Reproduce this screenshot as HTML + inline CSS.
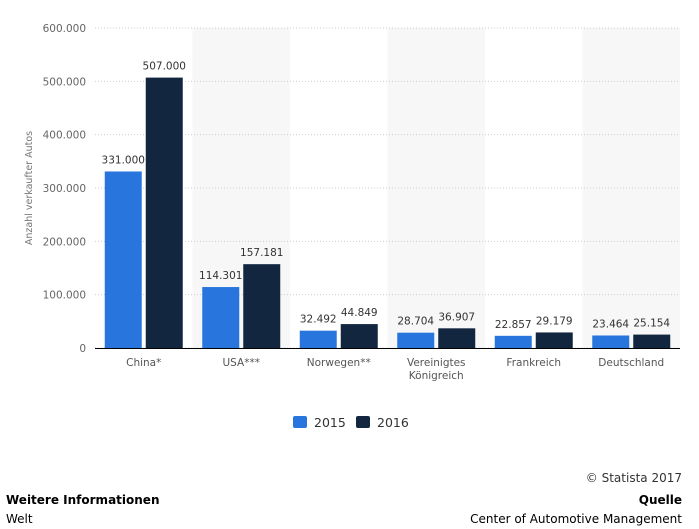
<!DOCTYPE html>
<html><head><meta charset="utf-8"><style>
body{margin:0;width:699px;height:529px;background:#fff;font-family:"DejaVu Sans",sans-serif;overflow:hidden;position:relative}
svg text{font-family:"DejaVu Sans",sans-serif}
.f{position:absolute;font-size:12px;color:#000}
</style></head><body>
<svg id="c" width="699" height="440" style="position:absolute;left:0;top:0"></svg>
<div class="f" style="right:17px;top:471px;color:#333">© Statista 2017</div>
<div class="f" style="left:6px;top:493px;font-weight:bold">Weitere Informationen</div>
<div class="f" style="left:6px;top:512px">Welt</div>
<div class="f" style="right:17px;top:493px;font-weight:bold">Quelle</div>
<div class="f" style="right:17px;top:512px">Center of Automotive Management</div>
<script>
const categories=[["China*"],["USA***"],["Norwegen**"],["Vereinigtes","Königreich"],["Frankreich"],["Deutschland"]];
const values2015=[331000,114301,32492,28704,22857,23464];
const values2016=[507000,157181,44849,36907,29179,25154];
const ticks=[0,100000,200000,300000,400000,500000,600000];
const svg=document.getElementById('c');const NS='http://www.w3.org/2000/svg';
const x0=95,x1=680,yb=348,yt=28,max=600000;
const y=v=>yb-(v/max)*(yb-yt);
const bw=(x1-x0)/categories.length;
const cx=i=>x0+bw*i+bw/2;
const fmt=v=>v===0?'0':v.toLocaleString('de-DE');
function el(t,a,txt){const e=document.createElementNS(NS,t);for(const k in a)e.setAttribute(k,a[k]);if(txt!=null)e.textContent=txt;svg.appendChild(e);return e;}
categories.forEach((c,i)=>{if(i%2==1){const r=el('rect',{x:x0+bw*i,y:yt,width:bw,height:yb-yt,fill:'#f7f7f7'});

}});
ticks.forEach(t=>{const l=el('line',{x1:x0,x2:x1,y1:y(t),y2:y(t),stroke:'#ccc','stroke-dasharray':'1,2'});


const tx=el('text',{x:86,y:y(t)+4,'text-anchor':'end','font-size':10.5,fill:'#666'},fmt(t));

});
const yt2=el('text',{x:0,y:0,transform:'translate(32,188) rotate(-90)','text-anchor':'middle','font-size':9.5,fill:'#777'},'Anzahl verkaufter Autos');


const series=[[values2015,'#2876dd',-39],[values2016,'#13263f',2]];
categories.forEach((c,i)=>{
series.forEach(([vals,col,off],s)=>{const v=vals[i];
const b=el('rect',{x:cx(i)+off,y:y(v),width:37,height:yb-y(v),fill:col});


const t=el('text',{x:cx(i)+off+18.5,y:y(v)-8,'text-anchor':'middle','font-size':10.5,fill:'#333'},fmt(v));

});
c.forEach((ln,k)=>{const t=el('text',{x:cx(i),y:366+k*13,'text-anchor':'middle','font-size':10.5,fill:'#555'},ln);

});
});
const ax=el('line',{x1:x0,x2:x1,y1:yb+0.5,y2:yb+0.5,stroke:'#000'});


[['2015','#2876dd',293],['2016','#13263f',356]].forEach(([n,c,lx])=>{
const g=el('g',{});

const r=document.createElementNS(NS,'rect');r.setAttribute('x',lx);r.setAttribute('y',416);r.setAttribute('width',14);r.setAttribute('height',12);r.setAttribute('rx',2);r.setAttribute('fill',c);g.appendChild(r);
const t=document.createElementNS(NS,'text');t.setAttribute('x',lx+21);t.setAttribute('y',427);t.setAttribute('font-size',12.5);t.setAttribute('fill','#333');t.textContent=n;g.appendChild(t);});
</script>
</body></html>
